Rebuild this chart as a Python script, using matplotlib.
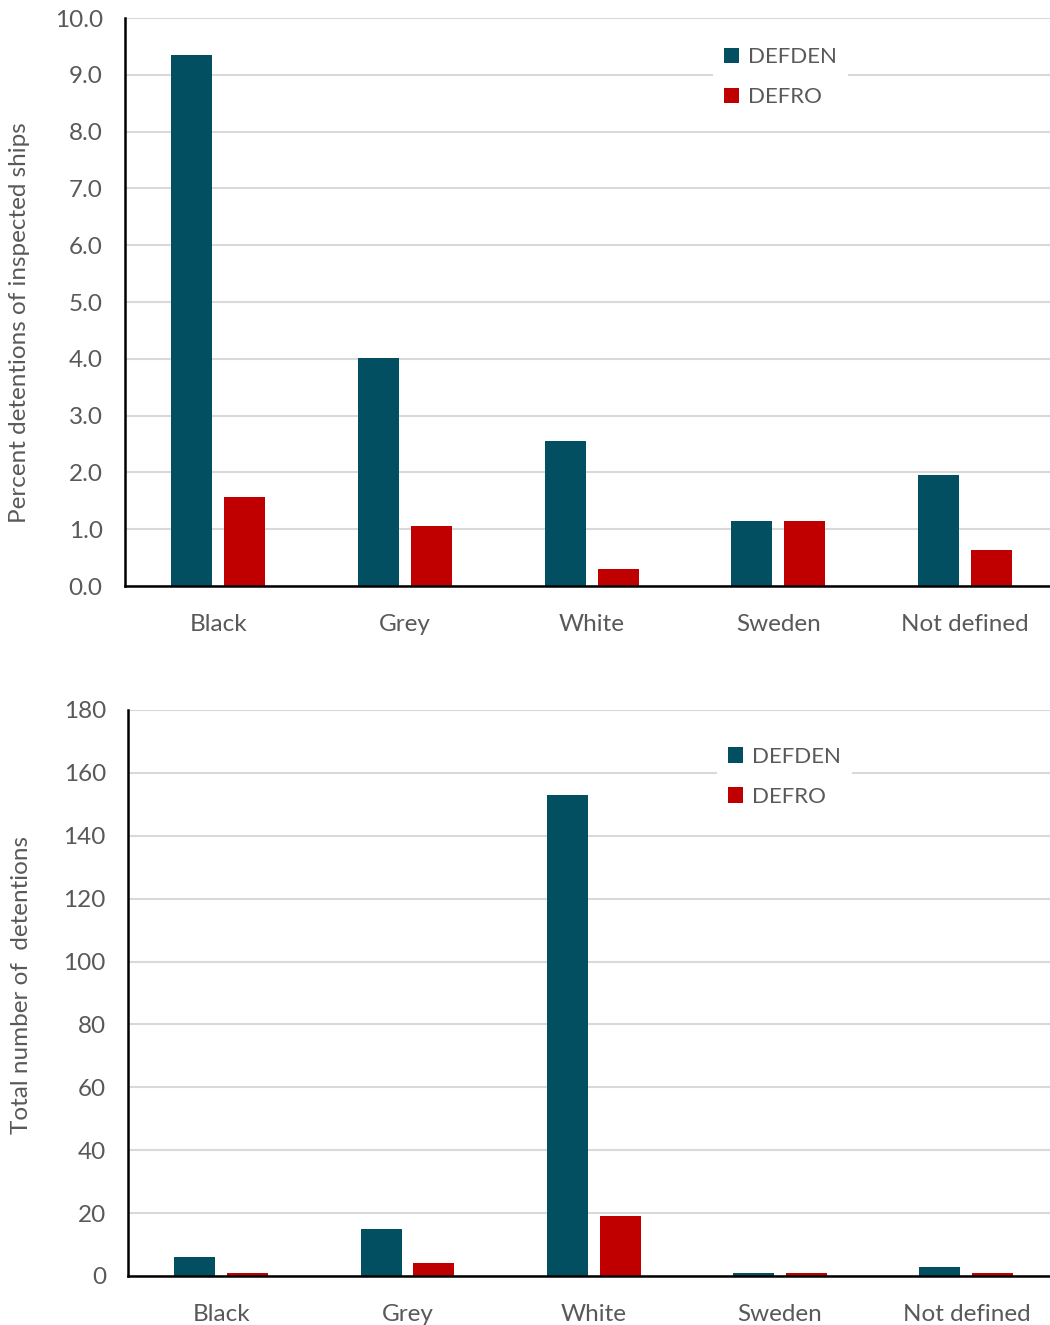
import numpy as np
import matplotlib.pyplot as plt

plt.rcParams['font.family'] = ['Lato', 'DejaVu Sans']

categories = ['Black', 'Grey', 'White', 'Sweden', 'Not defined']
series = ['DEFDEN', 'DEFRO']
pct_defden = [9.35, 4.02, 2.55, 1.14, 1.96]
pct_defro = [1.56, 1.06, 0.30, 1.14, 0.64]
tot_defden = [6, 15, 153, 1, 3]
tot_defro = [1, 4, 19, 1, 1]

colors = ['#034f62', '#c00000']
grey = '#595959'

fig = plt.figure(figsize=(10.5, 13.25), dpi=100)
ax1 = fig.add_axes([0.119, 0.5577, 0.889, 0.4287])
ax2 = fig.add_axes([0.122, 0.0370, 0.887, 0.4272])

x = np.arange(len(categories))
w = 0.22
off = 0.142

def style(ax, ymax, step, fmt, ylabel, ylab_xy, legx, legy):
    ax.set_xlim(-0.5, len(categories) - 0.5)
    ax.set_ylim(0, ymax)
    ax.set_yticks(np.arange(0, ymax + step / 2, step))
    ax.yaxis.set_major_formatter(plt.FuncFormatter(lambda v, p: fmt.format(v)))
    ax.set_xticks(x)
    ax.set_xticklabels(categories)
    ax.tick_params(axis='x', length=0, pad=20, labelsize=17.5, labelcolor=grey)
    ax.tick_params(axis='y', length=0, pad=16, labelsize=17.5, labelcolor=grey)
    ax.grid(axis='y', color='#d9d9d9', lw=1.5)
    ax.set_axisbelow(True)
    for s in ['top', 'right']:
        ax.spines[s].set_visible(False)
    for s in ['left', 'bottom']:
        ax.spines[s].set_color('black')
        ax.spines[s].set_linewidth(1.8)
    fig.text(ylab_xy[0], ylab_xy[1], ylabel, rotation=90, ha='center', va='center',
             fontsize=17.5, color=grey)
    leg = ax.legend(loc='upper left', bbox_to_anchor=(legx, legy), bbox_transform=fig.transFigure,
                    fontsize=16, frameon=True, facecolor='white', edgecolor='none', framealpha=1,
                    handlelength=0.7, handleheight=0.7, handletextpad=0.4, labelspacing=0.9,
                    borderpad=0.5, fancybox=False)
    for t in leg.get_texts():
        t.set_color(grey)

ax1.bar(x - off, pct_defden, w, color=colors[0], label=series[0])
ax1.bar(x + off, pct_defro, w, color=colors[1], label=series[1])
style(ax1, 10, 1, '{:.1f}', 'Percent detentions of inspected ships',
      (20 / 1050, 1 - 323 / 1325), 0.668, 0.981)

ax2.bar(x - off, tot_defden, w, color=colors[0], label=series[0])
ax2.bar(x + off, tot_defro, w, color=colors[1], label=series[1])
style(ax2, 180, 20, '{:.0f}', 'Total number of  detentions',
      (22 / 1050, 1 - 985 / 1325), 0.672, 0.453)

fig.savefig('out.png', dpi=100)
